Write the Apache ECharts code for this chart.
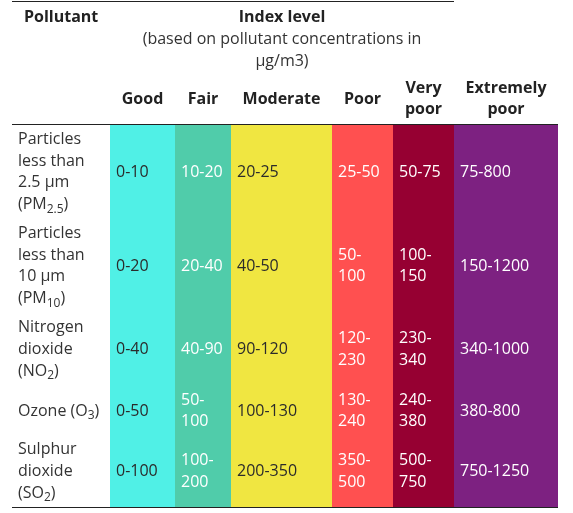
<!DOCTYPE html>
<html><head><meta charset="utf-8">
<script src="https://cdn.jsdelivr.net/npm/echarts@6/dist/echarts.min.js"></script>
<style>html,body{margin:0;padding:0;background:#fff}#c{width:573px;height:513px}</style>
</head><body><div id="c"></div>
<script>
// ---- data ----
const levels = ['Good', 'Fair', 'Moderate', 'Poor', 'Very poor', 'Extremely poor'];
const pollutants = [
  'Particles less than 2.5 µm (PM{2.5})',
  'Particles less than 10 µm (PM{10})',
  'Nitrogen dioxide (NO{2})',
  'Ozone (O{3})',
  'Sulphur dioxide (SO{2})'
];
const pm25 = ['0-10', '10-20', '20-25', '25-50', '50-75', '75-800'];
const pm10 = ['0-20', '20-40', '40-50', '50-100', '100-150', '150-1200'];
const no2  = ['0-40', '40-90', '90-120', '120-230', '230-340', '340-1000'];
const o3   = ['0-50', '50-100', '100-130', '130-240', '240-380', '380-800'];
const so2  = ['0-100', '100-200', '200-350', '350-500', '500-750', '750-1250'];
const rows = [pm25, pm10, no2, o3, so2];
const titleText = 'Index level';
const subText = '(based on pollutant concentrations in µg/m3)';
const firstHeader = 'Pollutant';

// ---- style / layout ----
const levelColors = ['#50F0E6', '#50CCAA', '#F0E641', '#FF5050', '#960032', '#7D2181'];
const textColors = ['#2b2b2b', '#ffffff', '#2b2b2b', '#ffffff', '#ffffff', '#ffffff'];
const colEdges = [110, 175, 231, 332, 393, 454, 558];
const rowEdges = [125, 219, 313, 386, 436, 507];
const FS = 16, LH = 21.6, PAD = 6;
const HFS = 16;
const FAM = '"Open Sans", "Noto Sans", sans-serif';

const mctx = document.createElement('canvas').getContext('2d');
function tw(t, weight, size) {
  mctx.font = (weight || 'normal') + ' ' + (size || FS) + 'px ' + FAM;
  return mctx.measureText(t.replace(/[{}]/g, '')).width;
}
function wrapWords(str, maxW, weight, size) {
  const words = str.split(' ');
  const lines = [];
  let cur = '';
  words.forEach(w => {
    const cand = cur ? cur + ' ' + w : w;
    if (cur && tw(cand, weight, size) > maxW) { lines.push(cur); cur = w; }
    else cur = cand;
  });
  if (cur) lines.push(cur);
  return lines;
}
function wrapRange(str, maxW) {
  if (tw(str) <= maxW) return [str];
  const i = str.indexOf('-');
  return [str.slice(0, i + 1), str.slice(i + 1)];
}
function toRich(line) {
  return line.replace(/\{([^}]*)\}/g, '{sub|$1}');
}
const subStyle = { fontSize: 12, fontFamily: FAM, lineHeight: 13, verticalAlign: 'bottom', fill: '#333' };

const cellData = [];
rows.forEach((arr, r) => arr.forEach((v, c) => cellData.push({ value: [c, r], text: v })));

const chart = echarts.init(document.getElementById('c'), null, { renderer: 'canvas' });

function renderCell(params, api) {
  const d = cellData[params.dataIndex];
  const c = d.value[0], r = d.value[1];
  const p0 = api.coord([colEdges[c], rowEdges[r]]);
  const p1 = api.coord([colEdges[c + 1], rowEdges[r + 1]]);
  const lines = wrapRange(d.text, p1[0] - p0[0] - 2 * PAD);
  return {
    type: 'group',
    children: [
      { type: 'rect', shape: { x: p0[0], y: p0[1], width: p1[0] - p0[0], height: p1[1] - p0[1] },
        style: { fill: levelColors[c] } },
      { type: 'text', x: p0[0] + PAD, y: (p0[1] + p1[1]) / 2,
        style: { text: lines.join('\n'), fill: textColors[c], fontSize: FS, fontFamily: FAM,
          lineHeight: LH, align: 'left', verticalAlign: 'middle' } }
    ]
  };
}

function renderPollutant(params, api) {
  const r = params.dataIndex;
  const p0 = api.coord([12, rowEdges[r]]);
  const p1 = api.coord([colEdges[0], rowEdges[r + 1]]);
  const lines = wrapWords(pollutants[r], colEdges[0] - 18 - 4, 'normal');
  return {
    type: 'text', x: 18, y: (p0[1] + p1[1]) / 2,
    style: { text: lines.map(toRich).join('\n'), fill: '#333', fontSize: FS, fontFamily: FAM,
      lineHeight: LH, align: 'left', verticalAlign: 'middle',
      rich: { sub: subStyle } }
  };
}

function renderHeader(params, api) {
  const c = params.dataIndex;
  const p0 = api.coord([colEdges[c], 0]);
  const p1 = api.coord([colEdges[c + 1], 0]);
  const lines = wrapWords(levels[c], p1[0] - p0[0] - 2 * PAD, 'bold', HFS);
  const yc = api.coord([0, 99])[1];
  return {
    type: 'text', x: (p0[0] + p1[0]) / 2, y: yc,
    style: { text: lines.join('\n'), fill: '#222', fontSize: HFS, fontWeight: 'bold', fontFamily: FAM,
      lineHeight: LH, align: 'center', verticalAlign: 'middle' }
  };
}

const subLines = wrapWords(subText, 290, 'normal');
const titleCenter = (colEdges[0] + colEdges[5]) / 2;

chart.setOption({
  animation: false,
  backgroundColor: '#fff',
  grid: { left: 0, right: 0, top: 0, bottom: 0 },
  xAxis: { type: 'value', min: 0, max: 573, show: false },
  yAxis: { type: 'value', min: 0, max: 513, inverse: true, show: false },
  title: {
    text: titleText, subtext: subLines.join('\n'), left: titleCenter, top: 7, textAlign: 'center',
    itemGap: 0, padding: 0,
    textStyle: { fontSize: HFS, fontWeight: 'bold', color: '#222', fontFamily: FAM, lineHeight: LH },
    subtextStyle: { fontSize: FS, color: '#333', fontFamily: FAM, lineHeight: LH }
  },
  graphic: [
    { type: 'text', left: 24, top: 7, style: { text: firstHeader, fontSize: HFS, fontWeight: 'bold', fill: '#222', fontFamily: FAM, lineHeight: LH } },
    { type: 'line', shape: { x1: 12, y1: 1.5, x2: colEdges[5], y2: 1.5 }, style: { stroke: '#222', lineWidth: 1 } },
    { type: 'line', shape: { x1: 12, y1: 124.5, x2: 558, y2: 124.5 }, style: { stroke: '#222', lineWidth: 1 } },
    { type: 'line', shape: { x1: 12, y1: 507.5, x2: 558, y2: 507.5 }, style: { stroke: '#222', lineWidth: 1 } }
  ],
  series: [
    { type: 'custom', name: 'cells', data: cellData.map(d => d.value), renderItem: renderCell, silent: true },
    { type: 'custom', name: 'pollutants', data: pollutants.map((p, i) => [0, i]), renderItem: renderPollutant, silent: true },
    { type: 'custom', name: 'levels', data: levels.map((l, i) => [i, 0]), renderItem: renderHeader, silent: true }
  ]
});
</script></body></html>
